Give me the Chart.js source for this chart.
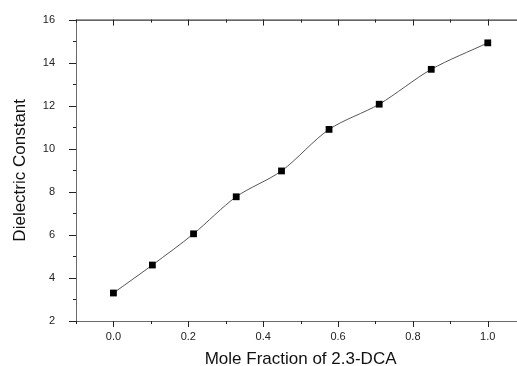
<!DOCTYPE html>
<html>
<head>
<meta charset="utf-8">
<script src="https://cdn.jsdelivr.net/npm/chart.js@4/dist/chart.umd.min.js"></script>
<style>
html,body{margin:0;padding:0;background:#fff;overflow:hidden;width:517px;height:366px;}
canvas{display:block;}
</style>
</head>
<body>
<canvas id="c" width="530" height="366"></canvas>
<script>
// Data
const moleFraction = [0.0, 0.104, 0.214, 0.328, 0.449, 0.576, 0.710, 0.849, 1.0];
const dielectric   = [3.3, 4.6, 6.05, 7.77, 8.97, 10.9, 12.07, 13.69, 14.92];
const xTickLabels = ['0.0', '0.2', '0.4', '0.6', '0.8', '1.0'];
const yTickLabels = ['2', '4', '6', '8', '10', '12', '14', '16'];
const xTitle = 'Mole Fraction of 2.3-DCA';
const yTitle = 'Dielectric Constant';

const points = moleFraction.map((x, i) => ({x: x, y: dielectric[i]}));

const axisPlugin = {
  id: 'originAxes',
  afterDraw(chart) {
    const ctx = chart.ctx;
    const xs = chart.scales.x, ys = chart.scales.y;
    const L = xs.left, R = xs.right, T = ys.top, B = ys.bottom;
    ctx.save();
    ctx.lineWidth = 1;
    // top frame line
    ctx.strokeStyle = '#000';
    ctx.beginPath(); ctx.moveTo(L, T + 0.5); ctx.lineTo(R, T + 0.5); ctx.stroke();
    // left and bottom axis lines
    ctx.strokeStyle = '#6a6a6a';
    ctx.beginPath(); ctx.moveTo(L + 0.5, T); ctx.lineTo(L + 0.5, B + 1); ctx.stroke();
    ctx.beginPath(); ctx.moveTo(L, B + 0.5); ctx.lineTo(R, B + 0.5); ctx.stroke();
    // x ticks (every 0.1; major every 0.2)
    ctx.strokeStyle = '#222';
    for (let k = 0; k <= 11; k++) {
      const v = -0.1 + k * 0.1;
      const px = Math.round(xs.getPixelForValue(v)) + 0.5;
      const major = (k % 2 === 1);
      const len = major ? 6 : 3;
      ctx.beginPath(); ctx.moveTo(px, B); ctx.lineTo(px, B + len); ctx.stroke();
      ctx.beginPath(); ctx.moveTo(px, T); ctx.lineTo(px, T + len); ctx.stroke();
    }
    // y ticks (every 1; major every 2)
    for (let v = 2; v <= 16; v++) {
      const py = Math.round(ys.getPixelForValue(v)) + 0.5;
      const major = (v % 2 === 0);
      const len = major ? 7 : 3;
      ctx.beginPath(); ctx.moveTo(L - len, py); ctx.lineTo(L, py); ctx.stroke();
    }
    ctx.restore();
  }
};

new Chart(document.getElementById('c'), {
  type: 'scatter',
  data: {
    datasets: [{
      data: points,
      showLine: true,
      borderColor: '#555',
      borderWidth: 1,
      tension: 0.3,
      pointStyle: 'rect',
      pointRadius: 4.8,
      pointBackgroundColor: '#000',
      pointBorderColor: '#000',
      pointBorderWidth: 0,
      clip: false
    }]
  },
  options: {
    responsive: false,
    animation: false,
    events: [],
    layout: {padding: {top: 15, right: 1, left: 0, bottom: 0}},
    plugins: {legend: {display: false}, tooltip: {enabled: false}},
    scales: {
      x: {
        type: 'linear', min: -0.1, max: 1.1,
        afterFit(s) { s.height = 45; },
        afterBuildTicks(s) { s.ticks = xTickLabels.map(t => ({value: parseFloat(t)})); },
        grid: {display: false},
        border: {display: false},
        ticks: {
          padding: 1,
          color: '#222',
          font: {family: 'Liberation Sans', size: 11},
          maxRotation: 0,
          callback: (v, i) => xTickLabels[i]
        },
        title: {
          display: true, text: xTitle, color: '#111',
          font: {family: 'Liberation Sans', size: 17},
          padding: {top: 0, bottom: -4}
        }
      },
      y: {
        type: 'linear', min: 2, max: 16,
        afterFit(s) { s.width = 76; },
        afterBuildTicks(s) { s.ticks = yTickLabels.map(t => ({value: parseFloat(t)})); },
        grid: {display: false},
        border: {display: false},
        ticks: {
          padding: 13,
          color: '#222',
          font: {family: 'Liberation Sans', size: 11},
          callback: (v, i) => yTickLabels[i]
        },
        title: {
          display: true, text: yTitle, color: '#111',
          font: {family: 'Liberation Sans', size: 17},
          padding: {top: 10, bottom: 0}
        }
      }
    }
  },
  plugins: [axisPlugin]
});
</script>
</body>
</html>
